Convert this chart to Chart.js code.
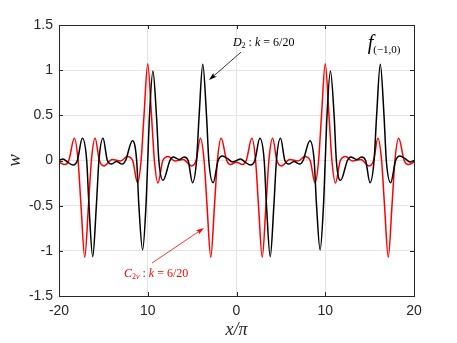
<!DOCTYPE html>
<html>
<head>
<meta charset="utf-8">
<script src="https://cdn.jsdelivr.net/npm/chart.js@4"></script>
<style>
html, body { margin: 0; padding: 0; background: #fff; }
</style>
</head>
<body>
<canvas id="chart" width="457" height="343"></canvas>
<script>
// curves (x in units of pi)
const blackX = [-20, -19.55, -19, -18.42, -17.93, -17.37, -16.88, -16.62, -16.2, -15.79, -15.5, -15.04, -14.55, -14.1, -13.53, -12.86, -12.5, -11.73, -11.25, -11, -10.58, -10.2, -10, -9.8, -9.42, -9.02, -8.75, -8.27, -7.5, -7.14, -6.47, -5.9, -5.45, -4.96, -4.5, -4.21, -3.8, -3.38, -3.12, -2.63, -2.07, -1.58, -1, -0.45,
  0, 0.45, 1, 1.58, 2.07, 2.63, 3.12, 3.38, 3.8, 4.21, 4.5, 4.96, 5.45, 5.9, 6.47, 7.14, 7.5, 8.27, 8.75, 9.02, 9.42, 9.8, 10, 10.2, 10.58, 11, 11.25, 11.73, 12.5, 12.86, 13.53, 14.1, 14.55, 15.04, 15.5, 15.79, 16.2, 16.62, 16.88, 17.37, 17.93, 18.42, 19, 19.55, 20];
const blackY = [0, 0.017, -0.02, -0.05, 0, 0.245, 0, -0.5, -1.065, -0.5, 0, 0.245, 0, -0.04, -0.01, -0.04, 0, 0.22, 0, -0.5, -0.99, -0.5, 0, 0.5, 0.99, 0.5, 0, -0.22, 0, 0.04, 0.01, 0.04, 0, -0.245, 0, 0.5, 1.065, 0.5, 0, -0.245, 0, 0.05, 0.02, -0.017,
  0, 0.017, -0.02, -0.05, 0, 0.245, 0, -0.5, -1.065, -0.5, 0, 0.245, 0, -0.04, -0.01, -0.04, 0, 0.22, 0, -0.5, -0.99, -0.5, 0, 0.5, 0.99, 0.5, 0, -0.22, 0, 0.04, 0.01, 0.04, 0, -0.245, 0, 0.5, 1.065, 0.5, 0, -0.245, 0, 0.05, 0.02, -0.017, 0];

const redX = [-20, -19.32, -18.9, -18.27, -17.85, -17.52, -17.1, -16.68, -16.35, -15.93, -15.45, -14.93, -14, -13.05, -12.3, -11.7, -11.15, -10.75, -10.42, -10, -9.58, -9.25, -8.85, -8.3, -7.7, -6.95, -6, -5.07, -4.55, -4.07, -3.65, -3.32, -2.9, -2.48, -2.15, -1.73, -1.1, -0.68,
  0, 0.68, 1.1, 1.73, 2.15, 2.48, 2.9, 3.32, 3.65, 4.07, 4.55, 5.07, 6, 6.95, 7.7, 8.3, 8.85, 9.25, 9.58, 10, 10.42, 10.75, 11.15, 11.7, 12.3, 13.05, 14, 14.93, 15.45, 15.93, 16.35, 16.68, 17.1, 17.52, 17.85, 18.27, 18.9, 19.32, 20];
const redY = [-0.02, -0.045, 0, 0.245, 0, -0.5, -1.07, -0.5, 0, 0.245, 0, -0.06, 0.01, -0.005, 0.045, 0, -0.25, 0, 0.5, 1.07, 0.5, 0, -0.25, 0, 0.045, -0.005, 0.01, -0.06, 0, 0.245, 0, -0.5, -1.07, -0.5, 0, 0.245, 0, -0.045,
  -0.02, -0.045, 0, 0.245, 0, -0.5, -1.07, -0.5, 0, 0.245, 0, -0.06, 0.01, -0.005, 0.045, 0, -0.25, 0, 0.5, 1.07, 0.5, 0, -0.25, 0, 0.045, -0.005, 0.01, -0.06, 0, 0.245, 0, -0.5, -1.07, -0.5, 0, 0.245, 0, -0.045, -0.02];

const xTickValues = [-20, -10, 0, 10, 20];
const xTickLabels = ['-20', '10', '0', '10', '20'];
const yTickValues = [-1.5, -1, -0.5, 0, 0.5, 1, 1.5];
const yTickLabels = ['-1.5', '-1', '-0.5', '0', '0.5', '1', '1.5'];

const toPoints = (xs, ys) => xs.map((x, i) => ({ x: x, y: ys[i] }));

const AXIS_COLOR = '#262626';
const SERIF = '"Liberation Serif", "DejaVu Serif", serif';

const drawRich = (ctx, x, y, parts) => {
  parts.forEach(p => {
    ctx.font = p.font;
    ctx.fillText(p.t, x, y + (p.dy || 0));
    x += ctx.measureText(p.t).width;
  });
};

const drawArrow = (ctx, x1, y1, x2, y2, color) => {
  const ang = Math.atan2(y2 - y1, x2 - x1);
  const len = 8, half = 2.6;
  ctx.strokeStyle = color;
  ctx.fillStyle = color;
  ctx.lineWidth = 0.8;
  ctx.beginPath();
  ctx.moveTo(x1, y1);
  ctx.lineTo(x2 - Math.cos(ang) * 3, y2 - Math.sin(ang) * 3);
  ctx.stroke();
  ctx.beginPath();
  ctx.moveTo(x2, y2);
  ctx.lineTo(x2 - len * Math.cos(ang) + half * Math.sin(ang), y2 - len * Math.sin(ang) - half * Math.cos(ang));
  ctx.lineTo(x2 - len * 0.8 * Math.cos(ang), y2 - len * 0.8 * Math.sin(ang));
  ctx.lineTo(x2 - len * Math.cos(ang) - half * Math.sin(ang), y2 - len * Math.sin(ang) + half * Math.cos(ang));
  ctx.closePath();
  ctx.fill();
};

const framePlugin = {
  id: 'frame',
  afterDraw(chart) {
    const { ctx, chartArea: a, scales: { x, y } } = chart;
    ctx.save();
    // box and inward ticks
    ctx.strokeStyle = AXIS_COLOR;
    ctx.lineWidth = 1;
    ctx.strokeRect(Math.round(a.left) + 0.5, Math.round(a.top) + 0.5, Math.round(a.right - a.left), Math.round(a.bottom - a.top));
    ctx.beginPath();
    xTickValues.forEach(v => {
      const px = Math.round(x.getPixelForValue(v)) + 0.5;
      ctx.moveTo(px, a.bottom); ctx.lineTo(px, a.bottom - 4);
      ctx.moveTo(px, a.top); ctx.lineTo(px, a.top + 4);
    });
    yTickValues.forEach(v => {
      const py = Math.round(y.getPixelForValue(v)) + 0.5;
      ctx.moveTo(a.left, py); ctx.lineTo(a.left + 4, py);
      ctx.moveTo(a.right, py); ctx.lineTo(a.right - 4, py);
    });
    ctx.stroke();

    // axis titles
    ctx.fillStyle = AXIS_COLOR;
    ctx.textAlign = 'center';
    ctx.textBaseline = 'alphabetic';
    ctx.font = 'italic 18px ' + SERIF;
    ctx.fillText('x/\u03c0', (a.left + a.right) / 2, 335);
    ctx.save();
    ctx.translate(20, (a.top + a.bottom) / 2);
    ctx.rotate(-Math.PI / 2);
    ctx.font = 'italic 19px ' + SERIF;
    ctx.fillText('w', 0, 0);
    ctx.restore();

    // annotations
    ctx.textAlign = 'left';
    ctx.fillStyle = '#000';
    drawRich(ctx, x.getPixelForValue(-0.4), y.getPixelForValue(1.27), [
      { t: 'D', font: 'italic 12px ' + SERIF },
      { t: '2', font: '8px ' + SERIF, dy: 2.5 },
      { t: ' : ', font: '12px ' + SERIF },
      { t: 'k', font: 'italic 12px ' + SERIF },
      { t: ' = 6/20', font: '12px ' + SERIF }
    ]);
    drawArrow(ctx, x.getPixelForValue(0.51), y.getPixelForValue(1.2), x.getPixelForValue(-3.1), y.getPixelForValue(0.89), '#000');

    ctx.fillStyle = '#ff0000';
    drawRich(ctx, x.getPixelForValue(-12.68), y.getPixelForValue(-1.286), [
      { t: 'C', font: 'italic 12px ' + SERIF },
      { t: '2', font: '8px ' + SERIF, dy: 2.5 },
      { t: 'v', font: 'italic 8px ' + SERIF, dy: 2.5 },
      { t: ' : ', font: '12px ' + SERIF },
      { t: 'k', font: 'italic 12px ' + SERIF },
      { t: ' = 6/20', font: '12px ' + SERIF }
    ]);
    drawArrow(ctx, x.getPixelForValue(-9.52), y.getPixelForValue(-1.135), x.getPixelForValue(-3.66), y.getPixelForValue(-0.747), '#ff0000');

    ctx.fillStyle = '#000';
    drawRich(ctx, x.getPixelForValue(14.78), y.getPixelForValue(1.23), [
      { t: 'f', font: 'italic 20px ' + SERIF },
      { t: '(\u22121,0)', font: '11px ' + SERIF, dy: 4 }
    ]);
    ctx.restore();
  }
};

const ctx = document.getElementById('chart').getContext('2d');
const chart = new Chart(ctx, {
  type: 'line',
  data: {
    datasets: [
      {
        label: 'D2',
        data: toPoints(blackX, blackY),
        borderColor: '#000000',
        borderWidth: 1.5,
        pointRadius: 0,
        cubicInterpolationMode: 'monotone',
        fill: false
      },
      {
        label: 'C2v',
        data: toPoints(redX, redY),
        borderColor: '#ff0000',
        borderWidth: 1.5,
        pointRadius: 0,
        cubicInterpolationMode: 'monotone',
        fill: false
      }
    ]
  },
  options: {
    responsive: false,
    animation: false,
    events: [],
    layout: { padding: { left: 0, right: 43, top: 25, bottom: 0 } },
    plugins: { legend: { display: false }, tooltip: { enabled: false } },
    scales: {
      x: {
        type: 'linear',
        min: -20,
        max: 20,
        afterBuildTicks: (s) => { s.ticks = xTickValues.map(v => ({ value: v })); },
        afterFit: (s) => { s.height = 47; },
        ticks: {
          callback: (v, i) => xTickLabels[i],
          font: { family: 'Liberation Sans', size: 14 },
          color: AXIS_COLOR,
          padding: 7,
          maxRotation: 0,
          autoSkip: false
        },
        grid: { color: '#e4e4e4', drawTicks: false },
        border: { display: false }
      },
      y: {
        type: 'linear',
        min: -1.5,
        max: 1.5,
        afterBuildTicks: (s) => { s.ticks = yTickValues.map(v => ({ value: v })); },
        afterFit: (s) => { s.width = 59; },
        ticks: {
          callback: (v, i) => yTickLabels[i],
          font: { family: 'Liberation Sans', size: 14 },
          color: AXIS_COLOR,
          padding: 6,
          autoSkip: false
        },
        grid: { color: '#e4e4e4', drawTicks: false },
        border: { display: false }
      }
    }
  },
  plugins: [framePlugin]
});
</script>
</body>
</html>
